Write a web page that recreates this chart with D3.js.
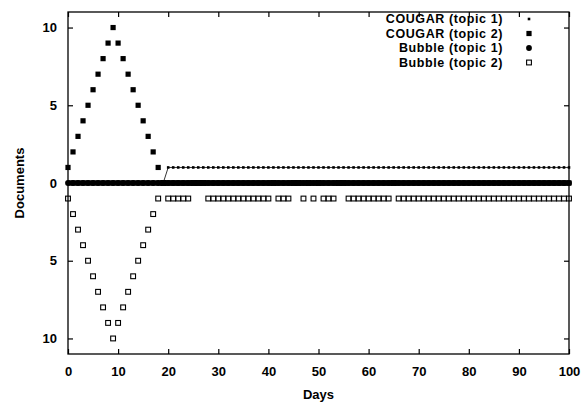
<!DOCTYPE html>
<html>
<head>
<meta charset="utf-8">
<script src="https://cdn.jsdelivr.net/npm/d3@7"></script>
<style>
  body { margin: 0; background: #fff; }
  text { font-family: "Liberation Sans", Arial, sans-serif; font-weight: bold; }
</style>
</head>
<body>
<div id="chart"></div>
<script>
// one value per day, day 0 .. 100
const days = [
  0,1,2,3,4,5,6,7,8,9, 10,11,12,13,14,15,16,17,18,19,
  20,21,22,23,24,25,26,27,28,29, 30,31,32,33,34,35,36,37,38,39,
  40,41,42,43,44,45,46,47,48,49, 50,51,52,53,54,55,56,57,58,59,
  60,61,62,63,64,65,66,67,68,69, 70,71,72,73,74,75,76,77,78,79,
  80,81,82,83,84,85,86,87,88,89, 90,91,92,93,94,95,96,97,98,99,
  100
];
const cougar1 = [
  0,0,0,0,0,0,0,0,0,0, 0,0,0,0,0,0,0,0,0,0,
  1,1,1,1,1,1,1,1,1,1, 1,1,1,1,1,1,1,1,1,1,
  1,1,1,1,1,1,1,1,1,1, 1,1,1,1,1,1,1,1,1,1,
  1,1,1,1,1,1,1,1,1,1, 1,1,1,1,1,1,1,1,1,1,
  1,1,1,1,1,1,1,1,1,1, 1,1,1,1,1,1,1,1,1,1,
  1
];
const cougar2 = [
  1,2,3,4,5,6,7,8,9,10, 9,8,7,6,5,4,3,2,1,0,
  0,0,0,0,0,0,0,0,0,0, 0,0,0,0,0,0,0,0,0,0,
  0,0,0,0,0,0,0,0,0,0, 0,0,0,0,0,0,0,0,0,0,
  0,0,0,0,0,0,0,0,0,0, 0,0,0,0,0,0,0,0,0,0,
  0,0,0,0,0,0,0,0,0,0, 0,0,0,0,0,0,0,0,0,0,
  0
];
const bubble1 = [
  0,0,0,0,0,0,0,0,0,0, 0,0,0,0,0,0,0,0,0,0,
  0,0,0,0,0,0,0,0,0,0, 0,0,0,0,0,0,0,0,0,0,
  0,0,0,0,0,0,0,0,0,0, 0,0,0,0,0,0,0,0,0,0,
  0,0,0,0,0,0,0,0,0,0, 0,0,0,0,0,0,0,0,0,0,
  0,0,0,0,0,0,0,0,0,0, 0,0,0,0,0,0,0,0,0,0,
  0
];
const bubble2 = [
  -1,-2,-3,-4,-5,-6,-7,-8,-9,-10, -9,-8,-7,-6,-5,-4,-3,-2,-1,0,
  -1,-1,-1,-1,-1,0,0,0,-1,-1, -1,-1,-1,-1,-1,-1,-1,-1,-1,-1,
  -1,0,-1,-1,-1,0,0,-1,0,-1, 0,-1,-1,-1,0,0,-1,-1,-1,-1,
  -1,-1,-1,-1,-1,0,-1,-1,-1,-1, -1,-1,-1,-1,-1,-1,-1,-1,-1,-1,
  -1,-1,-1,-1,-1,-1,-1,-1,-1,-1, -1,-1,-1,-1,-1,-1,-1,-1,-1,-1,
  -1
];
const legendLabels = ["COUGAR (topic 1)", "COUGAR (topic 2)", "Bubble (topic 1)", "Bubble (topic 2)"];
const xTicks = [0, 10, 20, 30, 40, 50, 60, 70, 80, 90, 100];
const yTicks = [-10, -5, 0, 5, 10];

const width = 586, height = 404;
const mLeft = 68, mRight = 569, mTop = 12, mBottom = 354;

const svg = d3.select("#chart").append("svg")
  .attr("width", width)
  .attr("height", height);

const x = d3.scaleLinear().domain([0, 100]).range([mLeft, mRight]);
const y = d3.scaleLinear().domain([-11, 11]).range([mBottom, mTop]);

// axes, gnuplot style: ticks inside, mirrored
const gx = svg.append("g").attr("transform", `translate(0,${mBottom})`)
  .call(d3.axisBottom(x).tickValues(xTicks).tickSize(-5).tickPadding(13));
const gxt = svg.append("g").attr("transform", `translate(0,${mTop})`)
  .call(d3.axisTop(x).tickValues(xTicks).tickSize(-5).tickFormat(""));
const gy = svg.append("g").attr("transform", `translate(${mLeft},0)`)
  .call(d3.axisLeft(y).tickValues(yTicks).tickSize(-5).tickPadding(11).tickFormat(d => Math.abs(d)));
const gyr = svg.append("g").attr("transform", `translate(${mRight},0)`)
  .call(d3.axisRight(y).tickValues(yTicks).tickSize(-5).tickFormat(""));

[gx, gxt, gy, gyr].forEach(g => {
  g.select(".domain").remove();
  g.selectAll("line").attr("stroke", "#000").attr("stroke-width", 1.2);
  g.selectAll("text").attr("fill", "#000").style("font-size", "13px");
});

svg.append("rect")
  .attr("x", mLeft).attr("y", mTop)
  .attr("width", mRight - mLeft).attr("height", mBottom - mTop)
  .attr("fill", "none").attr("stroke", "#000").attr("stroke-width", 1.3);

svg.append("text")
  .attr("x", (mLeft + mRight) / 2).attr("y", 399)
  .attr("text-anchor", "middle")
  .style("font-size", "13px")
  .text("Days");

svg.append("text")
  .attr("transform", `translate(24,${y(0)}) rotate(-90)`)
  .attr("text-anchor", "middle")
  .style("font-size", "13px")
  .text("Documents");

const plot = svg.append("g");

// COUGAR topic 1: thin line with small dots
plot.append("path")
  .datum(days)
  .attr("fill", "none")
  .attr("stroke", "#000")
  .attr("stroke-width", 0.8)
  .attr("d", d3.line().x(d => x(d)).y((d, i) => y(cougar1[i])));
plot.append("g").selectAll("rect")
  .data(days)
  .join("rect")
    .attr("x", d => x(d) - 1.3)
    .attr("y", (d, i) => y(cougar1[i]) - 1.3)
    .attr("width", 2.6).attr("height", 2.6)
    .attr("fill", "#000");

// COUGAR topic 2: filled squares
plot.append("g").selectAll("rect")
  .data(days)
  .join("rect")
    .attr("x", d => x(d) - 2.6)
    .attr("y", (d, i) => y(cougar2[i]) - 2.6)
    .attr("width", 5.2).attr("height", 5.2)
    .attr("fill", "#000");

// Bubble topic 1: filled circles on a heavy line
plot.append("path")
  .datum(days)
  .attr("fill", "none")
  .attr("stroke", "#000")
  .attr("stroke-width", 5.5)
  .attr("d", d3.line().x(d => x(d)).y((d, i) => y(bubble1[i])));
plot.append("g").selectAll("circle")
  .data(days)
  .join("circle")
    .attr("cx", d => x(d))
    .attr("cy", (d, i) => y(bubble1[i]))
    .attr("r", 2.9)
    .attr("fill", "#000");

// Bubble topic 2: open squares
plot.append("g").selectAll("rect")
  .data(days)
  .join("rect")
    .attr("x", d => x(d) - 2.4)
    .attr("y", (d, i) => y(bubble2[i]) - 2.4)
    .attr("width", 4.8).attr("height", 4.8)
    .attr("fill", "none")
    .attr("stroke", "#000")
    .attr("stroke-width", 1.1);

// legend
const legend = svg.append("g");
const ly = d3.scaleLinear().domain([0, 3]).range([19, 62.5]);
legend.selectAll("text")
  .data(legendLabels)
  .join("text")
    .attr("x", 503)
    .attr("y", (d, i) => ly(i))
    .attr("dy", "0.35em")
    .attr("text-anchor", "end")
    .style("font-size", "12.5px")
    .style("letter-spacing", "0.6px")
    .text(d => d);

const mx = 529;
legend.append("rect").attr("x", mx - 1.3).attr("y", ly(0) - 1.3).attr("width", 2.6).attr("height", 2.6).attr("fill", "#000");
legend.append("rect").attr("x", mx - 2.6).attr("y", ly(1) - 2.6).attr("width", 5.2).attr("height", 5.2).attr("fill", "#000");
legend.append("circle").attr("cx", mx).attr("cy", ly(2)).attr("r", 2.9).attr("fill", "#000");
legend.append("rect").attr("x", mx - 2.4).attr("y", ly(3) - 2.4).attr("width", 4.8).attr("height", 4.8)
  .attr("fill", "none").attr("stroke", "#000").attr("stroke-width", 1.1);
</script>
</body>
</html>
